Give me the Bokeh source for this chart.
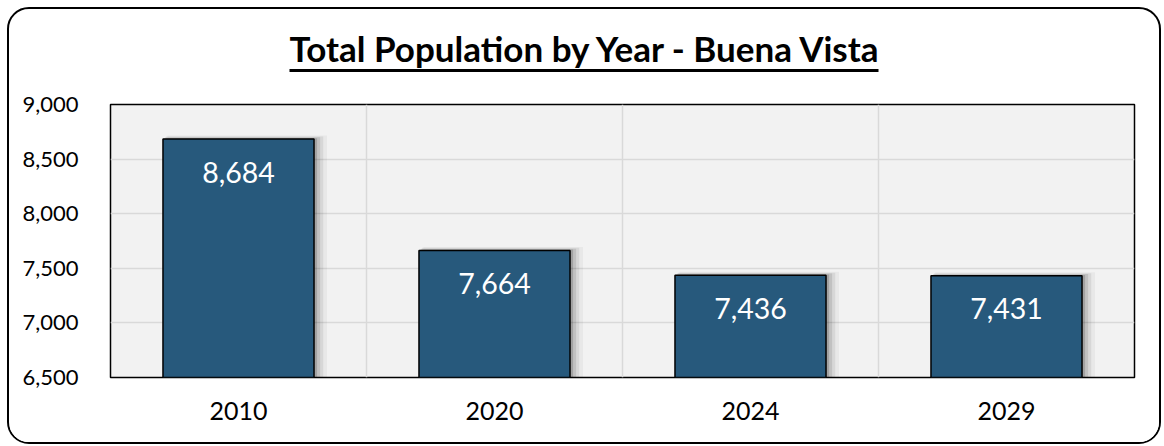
from bokeh.plotting import figure
from bokeh.models import FixedTicker, ColumnDataSource, NumeralTickFormatter, Div
from bokeh.layouts import column
from bokeh.transform import dodge
from bokeh.core.properties import value
from bokeh.embed import file_html
from bokeh.resources import INLINE

years = ["2010", "2020", "2024", "2029"]
population = [8684, 7664, 7436, 7431]
labels = ["8,684", "7,664", "7,436", "7,431"]
y_ticks = [6500, 7000, 7500, 8000, 8500, 9000]
title_text = "Total Population by Year - Buena Vista"

FONT = "Lato"
BAR = "#27597C"

xs = [i + 0.5 for i in range(len(years))]
src = ColumnDataSource(dict(x=xs, top=population, label=labels))

title_html = (
    '<div style="width:1150px;height:75px;box-sizing:border-box;padding-top:18px;'
    'text-align:center;font-family:Lato;font-size:35px;font-weight:bold;color:black;'
    'line-height:1.2;">'
    '<span style="text-decoration:underline;text-decoration-thickness:2.5px;'
    'text-underline-offset:7px;">' + title_text + '</span></div>'
)
title = Div(text=title_html, width=1150, height=75, margin=0)

p = figure(width=1150, height=358, output_backend="svg", toolbar_location=None,
           x_range=(0, len(years)), y_range=(y_ticks[0], y_ticks[-1]),
           min_border_left=101, min_border_right=25, min_border_top=20, min_border_bottom=65)

p.background_fill_color = "#F2F2F2"
p.border_fill_color = "white"
p.outline_line_color = "black"
p.outline_line_width = 1.5

# soft shadow layers (blurred look, offset right and slightly above)
for dx, dy, a in [(0.008, 8, 0.16), (0.016, 16, 0.10), (0.024, 24, 0.07), (0.034, 32, 0.04)]:
    p.vbar(x=dodge("x", dx, range=p.x_range), top=dodge("top", dy, range=p.y_range),
           bottom=y_ticks[0], width=0.59 + dx,
           source=src, fill_color="black", fill_alpha=a, line_color=None)

p.vbar(x="x", top="top", bottom=y_ticks[0], width=0.59, source=src,
       fill_color=BAR, line_color="black", line_width=1.5)

p.text(x="x", y="top", text="label", source=src, text_color="white",
       text_font=value(FONT), text_font_size="28.5px", text_align="center",
       text_baseline="middle", y_offset=33)

p.xaxis.ticker = FixedTicker(ticks=xs)
p.xaxis.major_label_overrides = {x: y for x, y in zip(xs, years)}
p.yaxis.ticker = FixedTicker(ticks=y_ticks)
p.yaxis.formatter = NumeralTickFormatter(format="0,0")

for ax in (p.xaxis[0], p.yaxis[0]):
    ax.axis_line_color = None
    ax.major_tick_line_color = None
    ax.minor_tick_line_color = None
    ax.major_label_text_font = FONT
    ax.major_label_text_color = "black"
p.yaxis.major_label_text_font_size = "22px"
p.xaxis.major_label_text_font_size = "25px"
p.yaxis.major_label_standoff = 26
p.xaxis.major_label_standoff = 18

p.xgrid.ticker = FixedTicker(ticks=list(range(1, len(years))))
p.xgrid.grid_line_color = "#D9D9D9"
p.xgrid.grid_line_width = 1.5
p.ygrid.grid_line_color = "#D9D9D9"
p.ygrid.grid_line_width = 1.5

layout = column(title, p, spacing=0,
                styles={"margin": "7px", "border": "2px solid black",
                        "border-radius": "22px", "background-color": "white",
                        "overflow": "hidden"})

open("out.html", "w").write(file_html(layout, INLINE))
